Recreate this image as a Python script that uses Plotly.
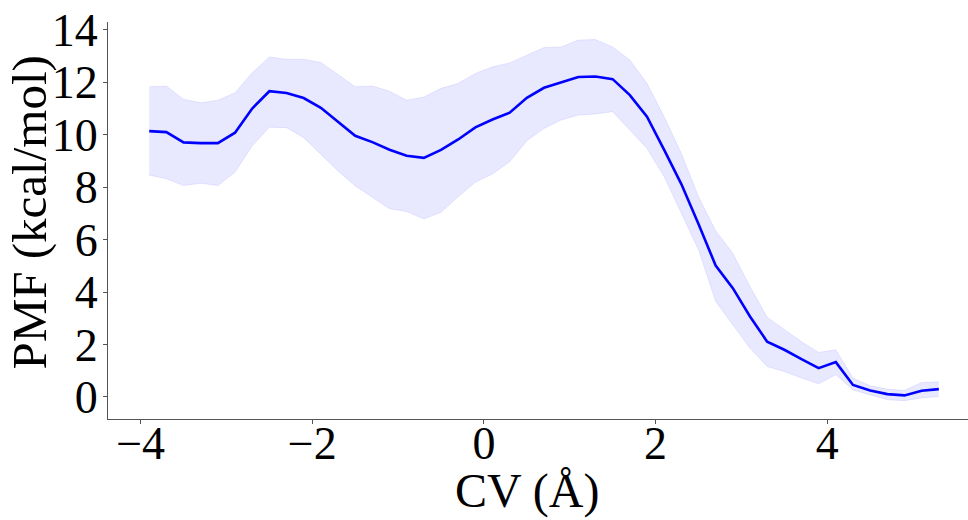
import plotly.graph_objects as go

cv = [-3.9, -3.7, -3.5, -3.3, -3.1, -2.9, -2.7, -2.5, -2.3, -2.1, -1.9, -1.7,
      -1.5, -1.3, -1.1, -0.9, -0.7, -0.5, -0.3, -0.1, 0.1, 0.3, 0.5, 0.7, 0.9,
      1.1, 1.3, 1.5, 1.7, 1.9, 2.1, 2.3, 2.5, 2.7, 2.9, 3.1, 3.3, 3.5, 3.7, 3.9,
      4.1, 4.3, 4.5, 4.7, 4.9, 5.1, 5.3]

pmf = [10.14, 10.10, 9.71, 9.68, 9.68, 10.08, 11.00, 11.66, 11.59, 11.40, 11.03, 10.50,
       9.96, 9.72, 9.43, 9.20, 9.12, 9.42, 9.82, 10.28, 10.58, 10.84, 11.41, 11.79, 11.98,
       12.20, 12.22, 12.12, 11.51, 10.69, 9.42, 8.12, 6.60, 5.01, 4.15, 3.07, 2.11, 1.80, 1.44, 1.10,
       1.33, 0.46, 0.25, 0.11, 0.06, 0.24, 0.30]

pmf_upper = [11.83, 11.86, 11.35, 11.22, 11.32, 11.60, 12.36, 12.97, 12.88, 12.88, 12.76, 12.30,
             11.83, 11.86, 11.66, 11.32, 11.44, 11.77, 11.96, 12.34, 12.59, 12.74, 13.05, 13.33, 13.35,
             13.61, 13.63, 13.35, 12.85, 11.96, 10.69, 9.29, 7.64, 6.34, 5.48, 4.21, 3.04, 2.56, 2.11, 1.70,
             1.80, 0.72, 0.43, 0.30, 0.25, 0.55, 0.58]

pmf_lower = [8.46, 8.32, 8.06, 8.15, 8.06, 8.57, 9.57, 10.29, 10.27, 9.89, 9.25, 8.62,
             8.05, 7.60, 7.18, 7.07, 6.79, 7.04, 7.64, 8.19, 8.50, 8.97, 9.77, 10.24, 10.56,
             10.75, 10.79, 10.88, 10.18, 9.48, 8.40, 7.01, 5.61, 3.64, 2.75, 1.86, 1.16, 0.97, 0.72, 0.50,
             0.85, 0.27, 0.08, -0.11, -0.14, -0.04, 0.02]

x_ticks = [-4, -2, 0, 2, 4]
y_ticks = [0, 2, 4, 6, 8, 10, 12, 14]

FONT = "Liberation Serif"
AX = "#555555"

fig = go.Figure()
fig.add_trace(go.Scatter(x=cv, y=pmf_lower, mode="lines",
                         line=dict(width=0.8, color="rgba(0,0,255,0.1)"),
                         showlegend=False, hoverinfo="skip"))
fig.add_trace(go.Scatter(x=cv, y=pmf_upper, mode="lines", fill="tonexty",
                         fillcolor="rgba(0,0,255,0.09)",
                         line=dict(width=0.8, color="rgba(0,0,255,0.1)"),
                         showlegend=False, hoverinfo="skip"))
fig.add_trace(go.Scatter(x=cv, y=pmf, mode="lines",
                         line=dict(width=2.6, color="#0000ff"),
                         showlegend=False))

fig.update_layout(
    width=968, height=520,
    margin=dict(l=108, r=0, t=22, b=101),
    plot_bgcolor="white", paper_bgcolor="white",
    font=dict(family=FONT, size=46, color="black"),
    annotations=[
        dict(text="PMF (kcal/mol)", xref="paper", yref="paper",
             x=-0.0907, y=0.52, xanchor="center", yanchor="middle",
             textangle=-90, showarrow=False, font=dict(family=FONT, size=49)),
        dict(text="CV (Å)", xref="paper", yref="paper",
             x=0.487, y=-0.182, xanchor="center", yanchor="middle",
             showarrow=False, font=dict(family=FONT, size=48)),
    ],
)
fig.update_xaxes(range=[-4.38, 5.64], tickvals=x_ticks, showgrid=False, zeroline=False,
                 showline=True, linecolor=AX, linewidth=1.3,
                 ticks="outside", ticklen=4, tickcolor=AX, tickwidth=1,
                 ticklabelstandoff=-20,
                 tickfont=dict(family=FONT, size=46))
fig.update_yaxes(range=[-0.84, 14.3], tickvals=y_ticks, showgrid=False, zeroline=False,
                 showline=True, linecolor=AX, linewidth=1.3,
                 ticks="outside", ticklen=4, tickcolor=AX, tickwidth=1,
                 ticklabelstandoff=-4,
                 tickfont=dict(family=FONT, size=46))

fig.write_html("out.html")
